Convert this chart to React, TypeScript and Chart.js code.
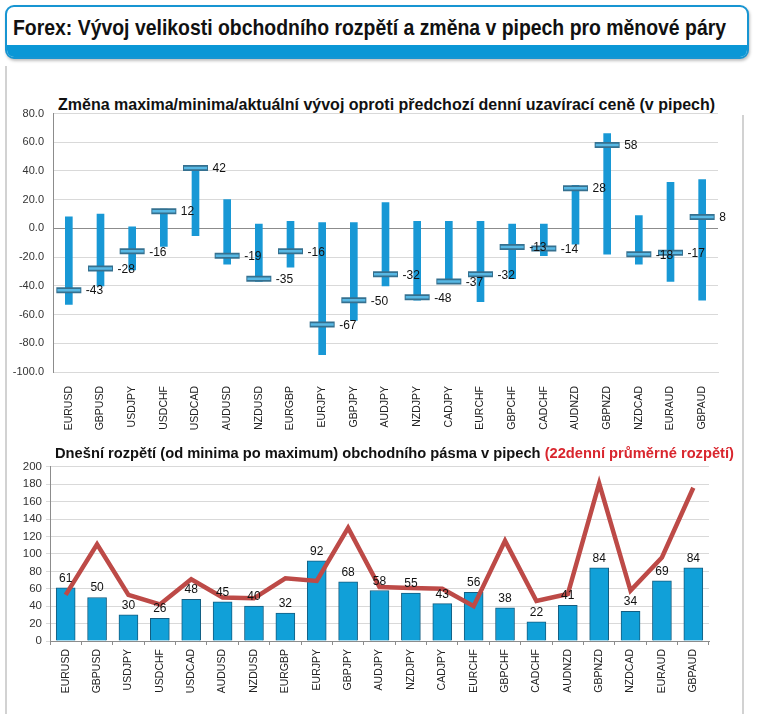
import React, { useEffect, useLayoutEffect, useRef } from "react";
import { Chart, registerables } from "chart.js";
Chart.register(...registerables);

const pairs = ["EURUSD", "GBPUSD", "USDJPY", "USDCHF", "USDCAD", "AUDUSD", "NZDUSD", "EURGBP", "EURJPY", "GBPJPY", "AUDJPY", "NZDJPY", "CADJPY", "EURCHF", "GBPCHF", "CADCHF", "AUDNZD", "GBPNZD", "NZDCAD", "EURAUD", "GBPAUD"];
const dayHigh = [8, 10, 1, 13.5, 43, 20, 3, 5, 4, 4, 18, 5, 5, 5, 3, 3, 30, 66, 9, 32, 34];
const dayLow = [-53, -40, -29, -12.5, -5, -25, -37, -27, -88, -64, -40, -50, -38, -51, -35, -19, -11, -18, -25, -37, -50];
const currentChange = [-43, -28, -16, 12, 42, -19, -35, -16, -67, -50, -32, -48, -37, -32, -13, -14, 28, 58, -18, -17, 8];
const todayRange = [61, 50, 30, 26, 48, 45, 40, 32, 92, 68, 58, 55, 43, 56, 38, 22, 41, 84, 34, 69, 84];
const avgRange22 = [53, 111, 53, 42, 71, 50, 49, 72, 69, 130, 62, 61, 60, 40, 115, 46, 54, 181, 58, 96, 176];
const topAxis = { min: -100, max: 80, step: 20 };
const bottomAxis = { min: 0, max: 200, step: 20 };

const FONT = "'Liberation Sans', Arial, sans-serif";

export default function App() {
  const topRef = useRef<HTMLCanvasElement>(null);
  const botRef = useRef<HTMLCanvasElement>(null);
  const titleRef = useRef<HTMLDivElement>(null);

  useLayoutEffect(() => {
    const el = titleRef.current;
    if (el) {
      const w = el.scrollWidth;
      if (w > 0) el.style.transform = `scaleX(${713 / w})`;
    }
  }, []);

  useEffect(() => {
    const topLabels = {
      id: "topLabels",
      afterDatasetsDraw(chart: any) {
        const meta = chart.getDatasetMeta(2);
        const ctx = chart.ctx;
        ctx.save();
        ctx.font = `12px ${FONT}`;
        ctx.fillStyle = "#111";
        ctx.textAlign = "left";
        ctx.textBaseline = "middle";
        meta.data.forEach((pt: any, i: number) => {
          ctx.fillText(String(currentChange[i]), pt.x + 17, pt.y + 1);
        });
        ctx.restore();
      },
    };
    const top = new Chart(topRef.current!, {
      type: "bar",
      data: {
        labels: pairs,
        datasets: [
          {
            type: "bar",
            data: pairs.map((_, i) => [dayLow[i], dayHigh[i]]) as any,
            backgroundColor: "#1898d5",
            borderWidth: 0,
            barThickness: 7,
            order: 3,
          },
          {
            type: "line",
            data: currentChange,
            showLine: false,
            pointStyle: "line",
            pointRadius: 12.5,
            pointBorderWidth: 6,
            pointBorderColor: "#35708f",
            pointBackgroundColor: "#35708f",
            order: 2,
          } as any,
          {
            type: "line",
            data: currentChange,
            showLine: false,
            pointStyle: "line",
            pointRadius: 11.5,
            pointBorderWidth: 2.5,
            pointBorderColor: "#58b8e4",
            pointBackgroundColor: "#58b8e4",
            order: 1,
          } as any,
        ],
      },
      options: {
        responsive: false,
        animation: false,
        layout: { padding: { top: 8, right: 40, left: 0, bottom: 0 } },
        plugins: { legend: { display: false }, tooltip: { enabled: false }, title: { display: false } },
        scales: {
          x: {
            grid: { display: false },
            border: { color: "#d9d9d9" },
            ticks: { maxRotation: 90, minRotation: 90, autoSkip: false, color: "#222", font: { family: FONT, size: 10.5 }, padding: 6 },
            afterFit(s: any) { s.height = 78; },
          },
          y: {
            min: topAxis.min,
            max: topAxis.max,
            ticks: { stepSize: topAxis.step, color: "#333", font: { family: FONT, size: 11 }, padding: 9, callback: (v: any) => Number(v).toFixed(1) },
            grid: { color: (c: any) => (c.tick && c.tick.value === 0 ? "#8c8c8c" : "#d9d9d9"), tickLength: 0 },
            border: { color: "#8c8c8c" },
            afterFit(s: any) { s.width = 53; },
          },
        },
      },
      plugins: [topLabels],
    });

    const botLabels = {
      id: "botLabels",
      afterDatasetsDraw(chart: any) {
        const meta = chart.getDatasetMeta(0);
        const ctx = chart.ctx;
        ctx.save();
        ctx.font = `12px ${FONT}`;
        ctx.fillStyle = "#111";
        ctx.textAlign = "center";
        ctx.textBaseline = "alphabetic";
        meta.data.forEach((b: any, i: number) => {
          ctx.fillText(String(todayRange[i]), b.x, b.y - 6);
        });
        ctx.restore();
      },
    };
    const bot = new Chart(botRef.current!, {
      type: "bar",
      data: {
        labels: pairs,
        datasets: [
          {
            type: "bar",
            data: todayRange,
            backgroundColor: "#11a0d8",
            borderColor: "#145d80",
            borderWidth: 1,
            barThickness: 19,
            order: 1,
          },
          {
            type: "line",
            data: avgRange22,
            borderColor: "#bd4a47",
            borderWidth: 4.5,
            pointRadius: 0,
            tension: 0,
            order: 0,
          } as any,
        ],
      },
      options: {
        responsive: false,
        animation: false,
        layout: { padding: { top: 8, right: 49, left: 0, bottom: 0 } },
        plugins: { legend: { display: false }, tooltip: { enabled: false }, title: { display: false } },
        scales: {
          x: {
            grid: { drawOnChartArea: false, drawTicks: true, tickLength: 4, color: "#8c8c8c", offset: true },
            border: { color: "#8c8c8c" },
            ticks: { maxRotation: 90, minRotation: 90, autoSkip: false, color: "#222", font: { family: FONT, size: 10.5 }, padding: 4 },
            afterFit(s: any) { s.height = 73; },
          },
          y: {
            min: bottomAxis.min,
            max: bottomAxis.max,
            ticks: { stepSize: bottomAxis.step, color: "#333", font: { family: FONT, size: 11.5 }, padding: 4 },
            grid: { color: "#d9d9d9", tickLength: 4 },
            border: { color: "#8c8c8c" },
            afterFit(s: any) { s.width = 50; },
          },
        },
      },
      plugins: [botLabels],
    });
    return () => {
      top.destroy();
      bot.destroy();
    };
  }, []);

  return (
    <div style={{ position: "absolute", left: 0, top: 0, width: 758, height: 714, background: "#fff", overflow: "hidden", fontFamily: FONT }}>
      <div style={{ position: "absolute", left: 5, top: 5, width: 744, height: 54, boxSizing: "border-box", border: "2px solid #1795d2", borderRadius: 9, overflow: "hidden", background: "#fff", boxShadow: "1px 2px 3px rgba(0,0,0,0.25)" }}>
        <div style={{ position: "absolute", left: 0, right: 0, bottom: 0, height: 12, background: "#0b97d6" }} />
        <div ref={titleRef} style={{ position: "absolute", left: 6, top: 8, fontFamily: FONT, fontWeight: "bold", fontSize: 22, color: "#111", whiteSpace: "nowrap", transformOrigin: "0 50%" }}>
          Forex: Vývoj velikosti obchodního rozpětí a změna v pipech pro měnové páry
        </div>
      </div>
      <div style={{ position: "absolute", left: 5, top: 66, width: 2, height: 648, background: "#d2d2d2" }} />
      <div style={{ position: "absolute", left: 742, top: 115, width: 2, height: 599, background: "#d2d2d2" }} />
      <div style={{ position: "absolute", left: 58, top: 96, fontWeight: "bold", fontSize: 16, color: "#111", whiteSpace: "nowrap" }}>
        Změna maxima/minima/aktuální vývoj oproti předchozí denní uzavírací ceně (v pipech)
      </div>
      <canvas ref={topRef} width={758} height={355} style={{ position: "absolute", left: 0, top: 95, width: 758, height: 355 }} />
      <div style={{ position: "absolute", left: 55, top: 445, fontWeight: "bold", fontSize: 14.7, color: "#111", whiteSpace: "nowrap" }}>
        Dnešní rozpětí (od minima po maximum) obchodního pásma v pipech <span style={{ color: "#d9262e" }}>(22denní průměrné rozpětí)</span>
      </div>
      <canvas ref={botRef} width={758} height={258} style={{ position: "absolute", left: 0, top: 456, width: 758, height: 258 }} />
    </div>
  );
}
